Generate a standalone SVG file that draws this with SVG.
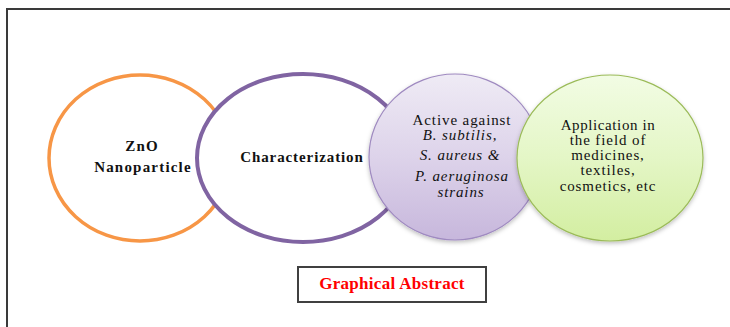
<svg xmlns="http://www.w3.org/2000/svg" width="730" height="327" viewBox="0 0 730 327">
<style>
.t{font-family:"Liberation Serif","Times New Roman",serif;fill:#111;text-anchor:middle}
.b{font-weight:bold;font-size:15px;letter-spacing:1.2px}
.r{font-size:15px;letter-spacing:0.9px}
.i{font-style:italic}
</style>
<defs>
<filter id="sh" x="-20%" y="-20%" width="140%" height="140%">
<feDropShadow dx="0" dy="2" stdDeviation="2" flood-color="#000" flood-opacity="0.25"/>
</filter>
<linearGradient id="gp" x1="0" y1="0" x2="0" y2="1">
<stop offset="0" stop-color="#EFEBF5"/>
<stop offset="0.5" stop-color="#DDD3EA"/>
<stop offset="1" stop-color="#C7B7DC"/>
</linearGradient>
<linearGradient id="gg" x1="0" y1="0" x2="0" y2="1">
<stop offset="0" stop-color="#F2FCE4"/>
<stop offset="0.5" stop-color="#E4F6C6"/>
<stop offset="1" stop-color="#D3EEA1"/>
</linearGradient>
</defs>
<rect width="730" height="327" fill="#fff"/>
<path d="M7,327 V9 H730" fill="none" stroke="#3a3a3a" stroke-width="2"/>
<g id="n1">
<ellipse cx="140" cy="158" rx="91" ry="83" fill="#fff" stroke="#F79646" stroke-width="3.5"/>
<text class="t b" x="142" y="151">ZnO</text>
<text class="t b" x="143" y="172">Nanoparticle</text>
</g>
<g id="n2">
<ellipse cx="303" cy="158" rx="106" ry="84" fill="#fff" stroke="#8064A2" stroke-width="4"/>
<text class="t b" x="302" y="162" style="letter-spacing:0.9px">Characterization</text>
</g>
<g id="n3">
<ellipse cx="455" cy="157" rx="86" ry="83" fill="url(#gp)" stroke="#9F8AC0" stroke-width="1.2" filter="url(#sh)"/>
<text class="t r" x="462" y="125">Active against</text>
<text class="t r i" x="460" y="140">B. subtilis,</text>
<text class="t r i" x="460" y="160">S. aureus &amp;</text>
<text class="t r i" x="462" y="181">P. aeruginosa</text>
<text class="t r i" x="461" y="197">strains</text>
</g>
<g id="n4">
<ellipse cx="610" cy="158" rx="93" ry="83" fill="url(#gg)" stroke="#9BBB59" stroke-width="1.2" filter="url(#sh)"/>
<text class="t r" x="608" y="130" style="letter-spacing:0.6px">Application in</text>
<text class="t r" x="608" y="145">the field of</text>
<text class="t r" x="608" y="160">medicines,</text>
<text class="t r" x="608" y="175">textiles,</text>
<text class="t r" x="608" y="191">cosmetics, etc</text>
</g>
<g id="connectors"></g>
<g id="title">
<rect x="298" y="267" width="188" height="35" fill="#fff" stroke="#404040" stroke-width="2"/>
<text x="392" y="289" style="font-family:'Liberation Serif','Times New Roman',serif;font-weight:bold;font-size:17px;fill:#FF0000;text-anchor:middle;letter-spacing:0.3px">Graphical Abstract</text>
</g>
</svg>
